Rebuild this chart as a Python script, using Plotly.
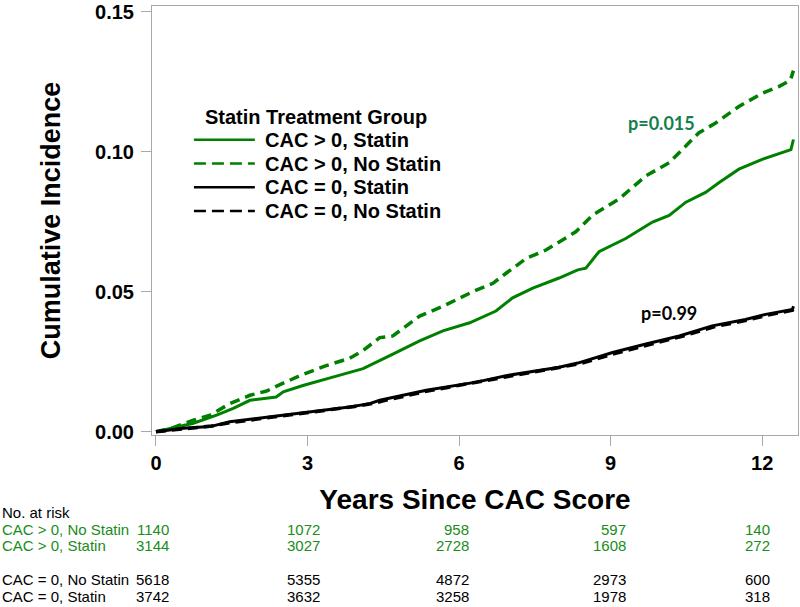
import plotly.graph_objects as go

# ---------------- data ----------------
t_pos_nostatin = [0, 0.35, 0.74, 1.07, 1.46, 1.86, 2.19, 2.38, 2.85, 3.37, 3.83, 4.10, 4.43, 4.69,
                  5.22, 5.68, 6.27, 6.67, 6.93, 7.33, 7.72, 7.98, 8.31, 8.64, 9.17, 9.70, 10.16,
                  10.55, 10.75, 11.08, 11.54, 12.00, 12.33, 12.56, 12.62]
y_pos_nostatin = [0, 0.0015, 0.0041, 0.0059, 0.0100, 0.0130, 0.0145, 0.0162, 0.0200, 0.0236, 0.0262,
                  0.0290, 0.0336, 0.0342, 0.0413, 0.0448, 0.0500, 0.0530, 0.0566, 0.0619, 0.0649,
                  0.0678, 0.0714, 0.0773, 0.0832, 0.0914, 0.0961, 0.1032, 0.1068, 0.1103, 0.1162,
                  0.1209, 0.1233, 0.1256, 0.1290]

t_pos_statin = [0, 0.28, 0.74, 1.20, 1.53, 1.86, 2.38, 2.52, 2.91, 3.50, 4.10, 4.69, 5.22, 5.68,
                6.21, 6.73, 7.06, 7.46, 7.98, 8.35, 8.51, 8.77, 9.30, 9.83, 10.16, 10.49, 10.88,
                11.15, 11.54, 12.00, 12.37, 12.57, 12.62]
y_pos_statin = [0, 0.0012, 0.0030, 0.0059, 0.0083, 0.0112, 0.0124, 0.0142, 0.0165, 0.0195, 0.0225,
                0.0277, 0.0324, 0.0360, 0.0389, 0.0431, 0.0478, 0.0513, 0.0549, 0.0578, 0.0584,
                0.0643, 0.0690, 0.0749, 0.0773, 0.0820, 0.0855, 0.0890, 0.0938, 0.0973, 0.0997,
                0.1008, 0.1044]

t_zero_statin = [0, 0.54, 1.07, 1.46, 1.99, 2.52, 3.17, 3.83, 4.23, 4.43, 5.35, 6.34, 6.93, 7.52,
                 7.98, 8.35, 9.04, 9.70, 10.36, 11.01, 11.67, 12.07, 12.60, 12.62]
y_zero_statin = [0, 0.0012, 0.0018, 0.0035, 0.0047, 0.0059, 0.0073, 0.0088, 0.0100, 0.0112, 0.0148,
                 0.0177, 0.0200, 0.0218, 0.0230, 0.0245, 0.0283, 0.0313, 0.0342, 0.0378, 0.0401,
                 0.0419, 0.0437, 0.0448]

t_zero_nostatin = [0, 0.60, 1.10, 1.50, 2.05, 2.60, 3.20, 3.90, 4.30, 4.50, 5.40, 6.40, 7.00, 7.60,
                   8.00, 8.40, 9.10, 9.75, 10.40, 11.05, 11.70, 12.10, 12.60, 12.62]
y_zero_nostatin = [0, 0.0010, 0.0020, 0.0033, 0.0046, 0.0058, 0.0071, 0.0089, 0.0101, 0.0110, 0.0146,
                   0.0178, 0.0198, 0.0216, 0.0228, 0.0243, 0.0280, 0.0310, 0.0340, 0.0375, 0.0398,
                   0.0416, 0.0434, 0.0442]

series_names = ["CAC > 0, Statin", "CAC > 0, No Statin", "CAC = 0, Statin", "CAC = 0, No Statin"]
legend_title = "Statin Treatment Group"

x_ticks = [0, 3, 6, 9, 12]
y_ticks = [0.00, 0.05, 0.10, 0.15]

risk_labels = ["CAC > 0, No Statin", "CAC > 0, Statin", "CAC = 0, No Statin", "CAC = 0, Statin"]
risk_pos_nostatin = [1140, 1072, 958, 597, 140]
risk_pos_statin = [3144, 3027, 2728, 1608, 272]
risk_zero_nostatin = [5618, 5355, 4872, 2973, 600]
risk_zero_statin = [3742, 3632, 3258, 1978, 318]

p_labels = ["p=0.015", "p=0.99"]

# ---------------- styles ----------------
GREEN = "#008000"
TEXT_GREEN = "#1a8c1a"
P_GREEN = "#12804a"
AX = "#a8a8a8"
FONT = "Arial, Liberation Sans, sans-serif"
PFONT = "Lato, Open Sans, sans-serif"
col_shift = [15, 14, 12, 17, 10]  # px offsets of risk-table columns


def px_x(px):  # pixel -> paper x
    return (px - 152) / 647.0


def px_y(py):  # pixel -> paper y
    return (435 - py) / 433.0


styles = [dict(color=GREEN, width=3),
          dict(color=GREEN, width=3.5, dash="10px,6px"),
          dict(color="black", width=3),
          dict(color="black", width=3.5, dash="10px,6px")]
xs = [t_pos_statin, t_pos_nostatin, t_zero_statin, t_zero_nostatin]
ys = [y_pos_statin, y_pos_nostatin, y_zero_statin, y_zero_nostatin]

fig = go.Figure()
for name, x, y, st in zip(series_names, xs, ys, styles):
    fig.add_trace(go.Scatter(x=x, y=y, mode="lines", name=name, line=st, showlegend=False))

annotations = []
shapes = []

# legend (drawn by hand to match spacing)
annotations.append(dict(x=px_x(203), y=px_y(114), xref="paper", yref="paper", xanchor="left",
                        yanchor="middle", text="<b>" + legend_title + "</b>", showarrow=False,
                        font=dict(family=FONT, size=20, color="black")))
leg_rows = [137, 161, 185, 209]
leg_dash = ["solid", "12px,6px", "solid", "12px,6px"]
for name, st, ry, dsh in zip(series_names, styles, leg_rows, leg_dash):
    shapes.append(dict(type="line", xref="paper", yref="paper", x0=px_x(194), x1=px_x(255),
                       y0=px_y(ry), y1=px_y(ry), line=dict(color=st["color"], width=2.5, dash=dsh)))
    annotations.append(dict(x=px_x(263), y=px_y(ry), xref="paper", yref="paper", xanchor="left",
                            yanchor="middle", text="<b>" + name + "</b>", showarrow=False,
                            font=dict(family=FONT, size=20, color="black")))

# p-values
annotations.append(dict(x=10.0, y=0.1103, xref="x", yref="y", text="<b>" + p_labels[0] + "</b>",
                        showarrow=False, font=dict(family=PFONT, size=18, color=P_GREEN)))
annotations.append(dict(x=10.16, y=0.0425, xref="x", yref="y", text="<b>" + p_labels[1] + "</b>",
                        showarrow=False, font=dict(family=PFONT, size=18, color="black")))

# risk table
annotations.append(dict(x=px_x(0), y=px_y(513), xref="paper", yref="paper", xanchor="left",
                        yanchor="middle", text="No. at risk", showarrow=False,
                        font=dict(family=FONT, size=15, color="black")))
rows = [(risk_labels[0], risk_pos_nostatin, TEXT_GREEN, 530),
        (risk_labels[1], risk_pos_statin, TEXT_GREEN, 547),
        (risk_labels[2], risk_zero_nostatin, "black", 581),
        (risk_labels[3], risk_zero_statin, "black", 598)]
for label, vals, col, ry in rows:
    annotations.append(dict(x=px_x(0), y=px_y(ry), xref="paper", yref="paper", xanchor="left",
                            yanchor="middle", text=label, showarrow=False,
                            font=dict(family=FONT, size=15, color=col)))
    for xv, v, sh in zip(x_ticks, vals, col_shift):
        annotations.append(dict(x=xv, y=px_y(ry), xref="x", yref="paper", xanchor="right",
                                yanchor="middle", xshift=sh, text=str(v), showarrow=False,
                                font=dict(family=FONT, size=15, color=col)))

fig.update_layout(
    width=800, height=607,
    margin=dict(l=152, r=1, t=2, b=172),
    paper_bgcolor="white", plot_bgcolor="white",
    font=dict(family=FONT, color="black"),
    showlegend=False,
    xaxis=dict(
        range=[-0.079, 12.71], tickvals=x_ticks, ticktext=[str(v) for v in x_ticks],
        ticks="outside", ticklen=10, tickcolor=AX, tickwidth=1,
        showline=True, linecolor=AX, linewidth=1, mirror=True,
        showgrid=False, zeroline=False, ticklabeloverflow="allow",
        tickfont=dict(family=FONT, size=20, color="black", weight="bold"),
        title=dict(text="<b>Years Since CAC Score</b>", font=dict(family=FONT, size=28, color="black"),
                   standoff=16),
    ),
    yaxis=dict(
        range=[-0.0012, 0.1521], tickvals=y_ticks, tickformat=".2f",
        ticks="outside", ticklen=10, tickcolor=AX, tickwidth=1,
        showline=True, linecolor=AX, linewidth=1, mirror=True,
        showgrid=False, zeroline=False, ticklabelstandoff=3, ticklabeloverflow="allow",
        tickfont=dict(family=FONT, size=20, color="black", weight="bold"),
        title=dict(text="<b>Cumulative Incidence</b>", font=dict(family=FONT, size=27, color="black"),
                   standoff=26),
    ),
    annotations=annotations,
    shapes=shapes,
)

fig.write_html("out.html", config={"displayModeBar": False},
               post_script="document.body.style.margin='0px';")
